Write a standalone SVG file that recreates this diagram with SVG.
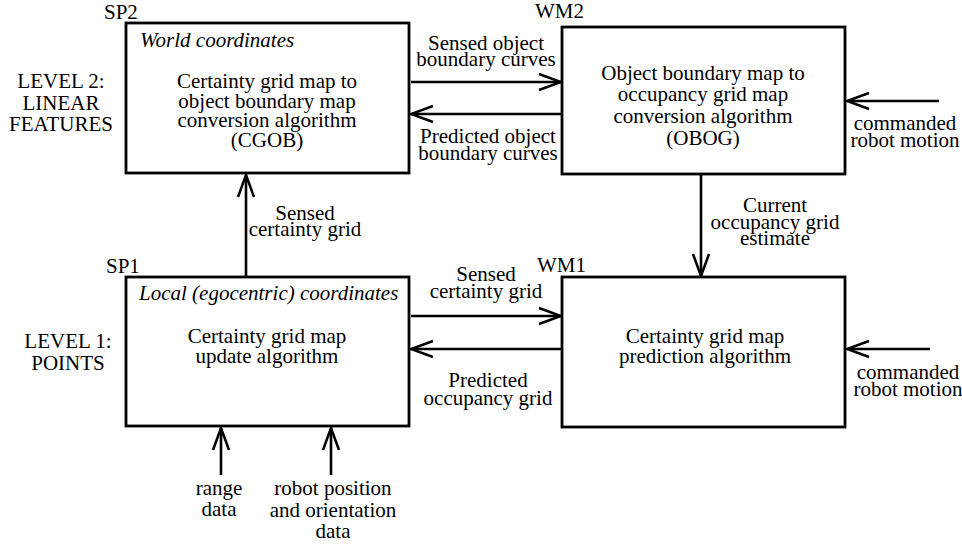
<svg xmlns="http://www.w3.org/2000/svg" width="962" height="548" viewBox="0 0 962 548" font-family="Liberation Serif" font-size="21">
<defs>
<style>
.c{text-anchor:middle}
.i{font-style:italic}
.box{fill:#fff;stroke:#000;stroke-width:2.8}
.ln{fill:none;stroke:#000;stroke-width:2.6;marker-end:url(#ah)}
</style>
<marker id="ah" viewBox="-24 -10 26 20" refX="0" refY="0" markerWidth="26" markerHeight="20" markerUnits="userSpaceOnUse" orient="auto">
<path d="M-22,-8 L0,0 L-22,8" fill="none" stroke="#000" stroke-width="2.5"/>
</marker>
</defs>
<rect width="962" height="548" fill="#fff"/>
<g id="level2" font-family="Liberation Serif">
<text class="c" x="61" y="88" font-family="Liberation Serif">LEVEL 2:</text>
<text class="c" x="61" y="110" font-family="Liberation Serif">LINEAR</text>
<text class="c" x="61" y="131" font-family="Liberation Serif">FEATURES</text>
</g>
<g id="level1" font-family="Liberation Serif">
<text class="c" x="68" y="348" font-family="Liberation Serif">LEVEL 1:</text>
<text class="c" x="68" y="370" font-family="Liberation Serif">POINTS</text>
</g>
<g id="SP2" font-family="Liberation Serif">
<text x="104" y="19" font-family="Liberation Serif">SP2</text>
<rect class="box" x="126" y="23" width="283" height="150"/>
<text class="i" x="140" y="47" font-family="Liberation Serif">World coordinates</text>
<text class="c" x="267" y="88" font-family="Liberation Serif">Certainty grid map to</text>
<text class="c" x="267" y="108" font-family="Liberation Serif">object boundary map</text>
<text class="c" x="267" y="127" font-family="Liberation Serif">conversion algorithm</text>
<text class="c" x="267" y="147" font-family="Liberation Serif">(CGOB)</text>
</g>
<g id="WM2" font-family="Liberation Serif">
<text x="535" y="18" font-family="Liberation Serif">WM2</text>
<rect class="box" x="562" y="27" width="283" height="147"/>
<text class="c" x="703" y="80" font-family="Liberation Serif">Object boundary map to</text>
<text class="c" x="703" y="101" font-family="Liberation Serif">occupancy grid map</text>
<text class="c" x="703" y="123" font-family="Liberation Serif">conversion algorithm</text>
<text class="c" x="703" y="145" font-family="Liberation Serif">(OBOG)</text>
</g>
<g id="SP1" font-family="Liberation Serif">
<text x="106" y="273" font-family="Liberation Serif">SP1</text>
<rect class="box" x="126" y="277" width="283" height="149"/>
<text class="i" x="139" y="300" font-family="Liberation Serif">Local (egocentric) coordinates</text>
<text class="c" x="267" y="343" font-family="Liberation Serif">Certainty grid map</text>
<text class="c" x="267" y="363" font-family="Liberation Serif">update algorithm</text>
</g>
<g id="WM1" font-family="Liberation Serif">
<text x="537" y="272" font-family="Liberation Serif">WM1</text>
<rect class="box" x="562" y="277" width="283" height="150"/>
<text class="c" x="705" y="343" font-family="Liberation Serif">Certainty grid map</text>
<text class="c" x="705" y="363" font-family="Liberation Serif">prediction algorithm</text>
</g>
<g id="connectors">
<path class="ln" d="M411,82 H561"/>
<path class="ln" d="M561,114 H411"/>
<path class="ln" d="M939,101 H847"/>
<path class="ln" d="M701,174 V276"/>
<path class="ln" d="M246,277 V175"/>
<path class="ln" d="M411,316 H561"/>
<path class="ln" d="M561,349 H411"/>
<path class="ln" d="M930,349 H847"/>
<path class="ln" d="M221,475 V428"/>
<path class="ln" d="M331,475 V428"/>
</g>
<g id="labels" font-family="Liberation Serif">
<text class="c" x="486" y="50" font-family="Liberation Serif">Sensed object</text>
<text class="c" x="486" y="66" font-family="Liberation Serif">boundary curves</text>
<text class="c" x="488" y="143" font-family="Liberation Serif">Predicted object</text>
<text class="c" x="488" y="160" font-family="Liberation Serif">boundary curves</text>
<text class="c" x="905" y="130" font-family="Liberation Serif">commanded</text>
<text class="c" x="905" y="147" font-family="Liberation Serif">robot motion</text>
<text class="c" x="305" y="220" font-family="Liberation Serif">Sensed</text>
<text class="c" x="305" y="236" font-family="Liberation Serif">certainty grid</text>
<text class="c" x="775" y="212" font-family="Liberation Serif">Current</text>
<text class="c" x="775" y="229" font-family="Liberation Serif">occupancy grid</text>
<text class="c" x="775" y="245" font-family="Liberation Serif">estimate</text>
<text class="c" x="486" y="281" font-family="Liberation Serif">Sensed</text>
<text class="c" x="486" y="298" font-family="Liberation Serif">certainty grid</text>
<text class="c" x="488" y="387" font-family="Liberation Serif">Predicted</text>
<text class="c" x="488" y="405" font-family="Liberation Serif">occupancy grid</text>
<text class="c" x="908" y="379" font-family="Liberation Serif">commanded</text>
<text class="c" x="908" y="396" font-family="Liberation Serif">robot motion</text>
<text class="c" x="219" y="495" font-family="Liberation Serif">range</text>
<text class="c" x="219" y="516" font-family="Liberation Serif">data</text>
<text class="c" x="333" y="495" font-family="Liberation Serif">robot position</text>
<text class="c" x="333" y="517" font-family="Liberation Serif">and orientation</text>
<text class="c" x="333" y="538" font-family="Liberation Serif">data</text>
</g>
</svg>
